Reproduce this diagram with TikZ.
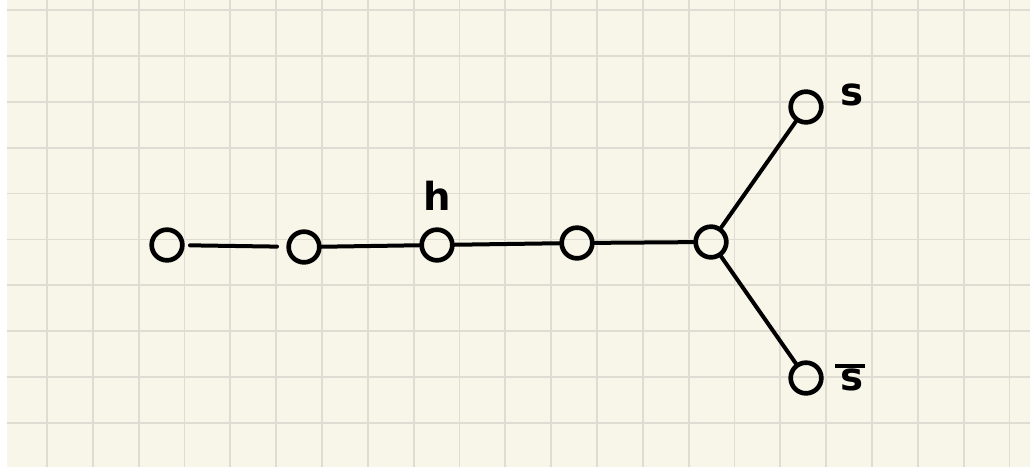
\documentclass[tikz,border=0pt]{standalone}
\usepackage{fontspec}
\setsansfont{DejaVu Sans}
\definecolor{paper}{HTML}{F8F5E9}
\definecolor{gridc}{HTML}{DFDDD3}
\begin{document}
\begin{tikzpicture}[x=0.75pt,y=-0.75pt,
  vtx/.style={circle,draw=black,line width=3.5pt,minimum size=23pt,inner sep=0pt},
  edge/.style={line width=3pt,line cap=round},
  lbl/.style={font=\sffamily\bfseries\fontsize{29}{32}\selectfont,inner sep=0pt}]
\useasboundingbox (0,0) rectangle (1030,467);
\fill[white] (0,0) rectangle (1030,467);
\fill[paper] (7,0) rectangle (1030,467);
\foreach \k in {0,...,21} \draw[gridc,line width=1.4pt] ({47+45.83*\k},0) -- ({47+45.83*\k},467);
\foreach \k in {0,...,9} \draw[gridc,line width=1.4pt] (7,{10+45.89*\k}) -- (1030,{10+45.89*\k});
\node[vtx] (a) at (167,245) {};
\node[vtx] (b) at (304,247) {};
\node[vtx] (c) at (437,245) {};
\node[vtx] (d) at (577,243) {};
\node[vtx] (e) at (711,242) {};
\node[vtx] (s) at (806,107) {};
\node[vtx] (t) at (806,378) {};
\node[lbl] (hl) at (437,196) {h};
\node[lbl] (sl) at (852,95) {s};
\node[lbl] (tl) at (852,380) {\smash{\rlap{\kern-4pt\raisebox{17pt}{\rule{22pt}{2.6pt}}}}s};
\draw[edge,shorten <=4pt,shorten >=7pt] (a) -- (b);
\draw[edge] (b) -- (c);
\draw[edge] (c) -- (d);
\draw[edge] (d) -- (e);
\draw[edge] (e) -- (s);
\draw[edge] (e) -- (t);
\end{tikzpicture}
\end{document}
